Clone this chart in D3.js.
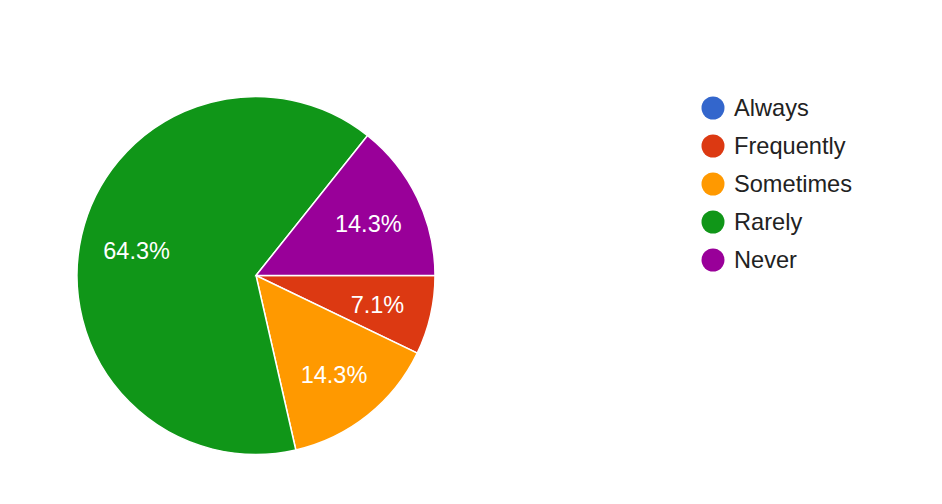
<!DOCTYPE html>
<html><head><meta charset="utf-8">
<script src="https://cdn.jsdelivr.net/npm/d3@7"></script>
<style>body{margin:0;background:#fff;}svg{display:block;}</style>
</head><body>
<script>
const categories = ["Always", "Frequently", "Sometimes", "Rarely", "Never"];
const counts = [0, 1, 2, 9, 2];
const colors = ["#3366cc", "#dc3912", "#ff9900", "#109618", "#990099"];

const W = 942, H = 504;
const cx = 256, cy = 275.5, r = 179;
const svg = d3.select("body").append("svg").attr("width", W).attr("height", H);

const total = d3.sum(counts);
const data = categories.map((c, i) => ({cat: c, value: counts[i], color: colors[i]}));
const pie = d3.pie().value(d => d.value).sort(null)
  .startAngle(Math.PI / 2).endAngle(Math.PI / 2 + 2 * Math.PI);
const arcs = pie(data);
const arc = d3.arc().innerRadius(0).outerRadius(r);
const labelArc = d3.arc().innerRadius(r * 0.69).outerRadius(r * 0.69);

const g = svg.append("g").attr("transform", `translate(${cx},${cy})`);
g.selectAll("path").data(arcs.filter(a => a.data.value > 0)).join("path")
  .attr("d", arc).attr("fill", d => d.data.color)
  .attr("stroke", "#fff").attr("stroke-width", 1.5);

g.selectAll("text").data(arcs.filter(a => a.data.value > 0)).join("text")
  .attr("transform", d => { const [x, y] = labelArc.centroid(d); return `translate(${x + 1},${y + 2.5})`; })
  .attr("text-anchor", "middle").attr("dominant-baseline", "central")
  .attr("fill", "#fff").attr("font-family", "Liberation Sans, Arial, sans-serif")
  .attr("font-size", 23.5)
  .text(d => (d.data.value / total * 100).toFixed(1) + "%");

const legend = svg.append("g").attr("transform", "translate(713,108)");
const item = legend.selectAll("g").data(data).join("g")
  .attr("transform", (d, i) => `translate(0,${i * 38})`);
item.append("circle").attr("r", 11.5).attr("fill", d => d.color);
item.append("text").attr("x", 21).attr("dominant-baseline", "central")
  .attr("fill", "#222").attr("font-family", "Liberation Sans, Arial, sans-serif")
  .attr("font-size", 23.6).text(d => d.cat);
</script>
</body></html>
